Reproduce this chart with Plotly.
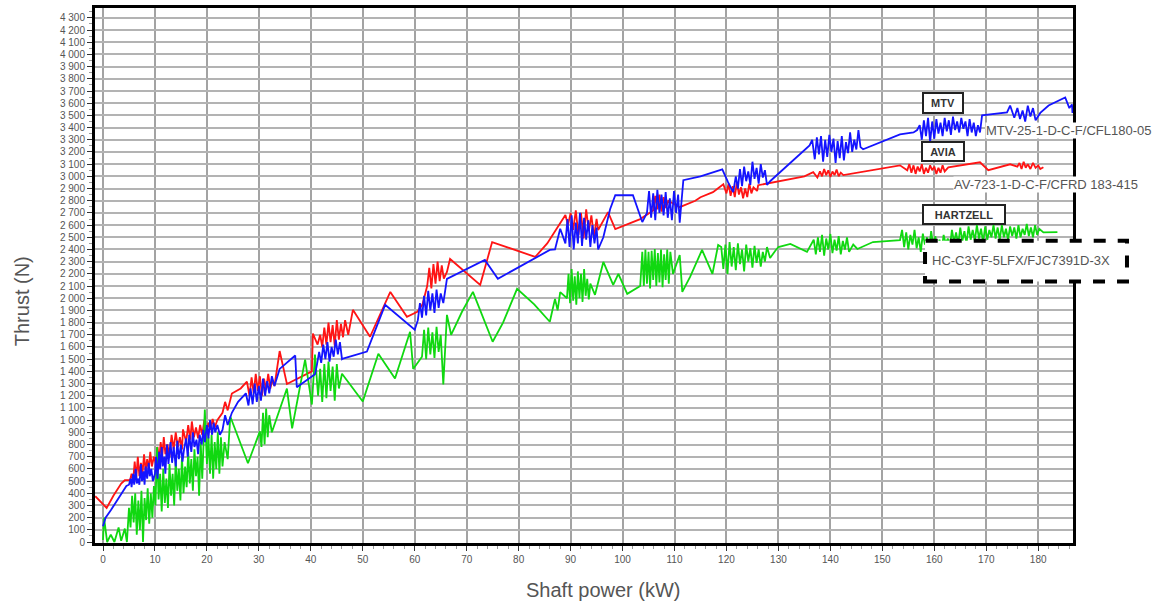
import plotly.graph_objects as go

# ---------------- data ----------------
# MTV  (blue)  : (shaft power kW, thrust N)
mtv_points = [
    (0, 130), (0.5, 200), (1.5, 260), (2.5, 330), (3.5, 400), (4.5, 460), (5, 470),
    (5.3, 520), (5.5, 450), (5.8, 560), (6, 470), (6.3, 600), (6.5, 480), (6.8, 520), (7, 470),
    (7.3, 640), (7.5, 500), (7.8, 580), (8, 470), (8.2, 620), (8.5, 520), (8.8, 650), (9, 540),
    (9.3, 600), (9.6, 500), (10, 560), (10.2, 700), (10.5, 520), (10.8, 740), (11, 600),
    (11.3, 780), (11.5, 620), (11.8, 700), (12, 560), (12.3, 800), (12.6, 640), (13, 820),
    (13.3, 650), (13.6, 780), (14, 620), (14.3, 830), (14.6, 680), (15, 800), (15.3, 660),
    (15.6, 760), (16, 850), (16.3, 700), (16.6, 880), (17, 740), (17.3, 900), (17.6, 780),
    (18, 840), (18.3, 720), (18.6, 880), (19, 800), (19.3, 920), (19.6, 820), (20, 960),
    (20.3, 850), (20.6, 1000), (21, 880), (21.3, 980), (21.6, 900), (22, 960), (22.5, 880),
    (23, 920), (23.5, 1040), (24, 960), (24.8, 1060), (26, 1150), (27.5, 1220), (28, 1120),
    (28.4, 1260), (28.8, 1130), (29.2, 1300), (29.6, 1150), (30, 1280), (30.4, 1160),
    (30.8, 1340), (31.2, 1200), (31.6, 1320), (32, 1220), (32.5, 1360), (33, 1280),
    (34, 1420), (37, 1530), (37.3, 1270), (40.8, 1376), (41.2, 1460), (41.6, 1560),
    (42, 1470), (42.4, 1620), (42.8, 1500), (43.2, 1640), (43.6, 1480), (44, 1600),
    (44.4, 1520), (44.8, 1660), (45.2, 1540), (45.6, 1640), (46, 1500), (46.2, 1505),
    (50.8, 1562), (54.3, 1946), (60, 1741), (60.6, 1820), (61, 1960), (61.4, 1840),
    (61.8, 2020), (62.2, 1860), (62.6, 2060), (63, 1900), (63.4, 2040), (63.8, 1880),
    (64.2, 2070), (64.6, 1920), (65, 2040), (65.5, 1960), (66.2, 2158), (73.5, 2314),
    (76, 2160), (86, 2396), (87, 2400), (88, 2570), (89, 2450), (89.4, 2650), (89.8, 2420),
    (90.2, 2680), (90.6, 2400), (91, 2620), (91.4, 2450), (91.8, 2700), (92.2, 2430),
    (92.6, 2660), (93, 2480), (93.4, 2640), (93.8, 2420), (94.2, 2600), (94.6, 2450),
    (95, 2580), (95.3, 2400), (96.3, 2500), (97.6, 2730), (98.6, 2845), (102, 2845),
    (103.8, 2625), (104.7, 2700), (105.1, 2880), (105.5, 2660), (105.9, 2860), (106.3, 2640),
    (106.7, 2890), (107.1, 2700), (107.5, 2850), (107.9, 2680), (108.3, 2870), (108.7, 2660),
    (109.1, 2820), (109.5, 2640), (109.9, 2880), (110.3, 2700), (110.7, 2850), (111, 2620),
    (111.5, 2845), (111.7, 2968), (115, 3000), (119.2, 3058), (120.3, 2952), (121.3, 2870),
    (121.8, 3000), (122.2, 2900), (122.6, 3060), (123, 2920), (123.4, 3080), (123.8, 2960),
    (124.2, 3040), (124.6, 2930), (125, 3120), (125.4, 2980), (125.8, 3070), (126.2, 2940),
    (126.6, 3100), (127, 2990), (127.4, 3050), (127.8, 2930), (128.4, 2960), (136, 3254),
    (136.5, 3300), (137, 3140), (137.4, 3320), (137.8, 3180), (138.2, 3330), (138.6, 3120),
    (139, 3300), (139.4, 3160), (139.8, 3340), (140.2, 3200), (140.6, 3310), (141, 3110),
    (141.4, 3290), (141.8, 3150), (142.2, 3330), (142.6, 3130), (143, 3280), (143.4, 3190),
    (143.8, 3360), (144.2, 3200), (144.6, 3300), (145, 3220), (145.4, 3380), (145.8, 3240),
    (146.3, 3222), (153.4, 3344), (156, 3360), (156.7, 3380), (157.2, 3420), (157.6, 3300),
    (158, 3460), (158.4, 3330), (158.8, 3480), (159.2, 3280), (159.6, 3450), (160, 3310),
    (160.4, 3470), (160.8, 3350), (161.2, 3440), (161.6, 3330), (162, 3480), (162.4, 3370),
    (162.8, 3460), (163.2, 3340), (163.6, 3490), (164, 3380), (164.4, 3450), (164.8, 3360),
    (165.2, 3480), (165.6, 3390), (166, 3450), (166.4, 3330), (166.8, 3470), (167.2, 3360),
    (167.6, 3440), (168, 3330), (168.4, 3420), (168.8, 3360), (169.2, 3500), (174, 3524),
    (174.6, 3581), (175.4, 3480), (176, 3560), (176.5, 3470), (177, 3540), (177.5, 3450),
    (178, 3580), (178.5, 3490), (179, 3560), (179.5, 3460), (180.4, 3520), (182, 3581),
    (185.2, 3647), (186, 3560), (186.5, 3590), (186.6, 3520),
]

# AVIA (red)
avia_points = [
    (-1.5, 376), (0.7, 280), (2, 380), (3.5, 480), (4.2, 507), (5.2, 507),
    (5.5, 560), (5.8, 500), (6.1, 660), (6.4, 520), (6.7, 700), (7, 540), (7.3, 650),
    (7.6, 560), (7.9, 720), (8.2, 580), (8.5, 680), (8.8, 600), (9.1, 740), (9.4, 620),
    (9.8, 700), (10.2, 640), (10.5, 780), (10.8, 660), (11.1, 820), (11.4, 700), (11.7, 860),
    (12, 720), (12.4, 800), (12.8, 700), (13.2, 880), (13.6, 760), (14, 900), (14.4, 780),
    (14.8, 860), (15.2, 760), (15.4, 924), (16, 820), (16.4, 960), (16.8, 840), (17.1, 989),
    (17.5, 860), (17.9, 940), (18.3, 850), (18.7, 960), (19.1, 880), (19.5, 1000),
    (19.9, 900), (20.3, 980), (20.7, 920), (21.1, 1010), (21.5, 940), (22, 1000),
    (23, 1060), (23.5, 1150), (24, 1080), (24.8, 1218), (26.5, 1260), (27.7, 1316),
    (28.2, 1200), (28.6, 1350), (29, 1220), (29.4, 1380), (29.8, 1240), (30.2, 1360),
    (30.6, 1200), (31, 1340), (31.4, 1250), (31.8, 1380), (32.2, 1260), (32.6, 1330),
    (33, 1280), (34, 1567), (35.4, 1297), (40.2, 1400), (40.4, 1710), (41.3, 1620),
    (41.8, 1700), (42.2, 1600), (42.6, 1760), (43, 1620), (43.4, 1800), (43.8, 1640),
    (44.2, 1780), (44.6, 1610), (45, 1820), (45.4, 1660), (45.8, 1790), (46.2, 1680),
    (46.6, 1820), (47.2, 1700), (48.1, 1905), (51.4, 1684), (55.3, 2052), (58.5, 1848),
    (60.5, 1889), (61.5, 1950), (62.4, 2100), (62.8, 2250), (63.2, 2080), (63.6, 2280),
    (64, 2120), (64.4, 2300), (64.8, 2140), (65.2, 2270), (65.6, 2160), (66.2, 2216),
    (66.8, 2322), (72.6, 2110), (74.9, 2461), (83.2, 2339), (85.5, 2450), (89, 2682),
    (89.5, 2600), (90, 2700), (90.5, 2560), (91, 2720), (91.5, 2520), (92, 2700),
    (92.5, 2490), (93, 2730), (93.5, 2550), (94, 2680), (94.5, 2500), (95, 2650),
    (95.3, 2560), (97.2, 2706), (98.6, 2567), (103.4, 2649), (105.9, 2720), (106.3, 2840),
    (106.7, 2730), (107.1, 2850), (107.5, 2710), (107.9, 2830), (108.3, 2740), (108.8, 2800),
    (111, 2747), (114, 2800), (115, 2829), (117.4, 2870), (119.4, 2935), (120, 2860),
    (120.4, 2940), (120.8, 2840), (121.2, 2920), (121.6, 2830), (122, 2950), (122.4, 2850),
    (122.8, 2910), (123.2, 2820), (123.6, 2900), (124, 2830), (124.4, 2940), (124.8, 2860),
    (125.2, 2910), (125.9, 2880), (126.1, 2927), (135, 3000), (136.7, 3034), (137.5, 2990),
    (138, 3040), (138.4, 3000), (138.8, 3060), (139.2, 3010), (139.6, 3050), (140, 2995),
    (140.4, 3040), (140.8, 3010), (141.2, 3055), (141.6, 3000), (142, 3030), (142.5, 3010),
    (153.4, 3090), (154.8, 3050), (155.2, 3100), (155.6, 3030), (156, 3090), (156.4, 3020),
    (156.8, 3080), (157.2, 3040), (157.6, 3100), (158, 3020), (158.4, 3070), (158.8, 3030),
    (159.2, 3090), (159.6, 3050), (160, 3080), (160.4, 3020), (160.8, 3070), (161.2, 3030),
    (161.6, 3090), (162, 3040), (162.7, 3074), (168.8, 3115), (170.4, 3050), (174.6, 3099),
    (176, 3080), (176.4, 3110), (176.8, 3060), (177.2, 3120), (177.6, 3070), (178, 3100),
    (178.5, 3060), (179, 3110), (179.5, 3070), (180, 3090), (180.4, 3060), (181, 3074),
]

# HARTZELL (green)
hartzell_points = [
    (0, 16), (0.2, 200), (0.8, 0), (1.5, 60), (2.2, 0), (3, 120), (3.5, 10), (4.2, 110),
    (4.6, 0), (5, 280), (5.3, 120), (5.6, 380), (5.9, 160), (6.2, 400), (6.5, 60),
    (6.8, 340), (7.1, 100), (7.4, 420), (7.7, 0), (8, 360), (8.3, 180), (8.6, 440),
    (8.9, 150), (9.2, 400), (9.5, 200), (9.8, 460), (10.1, 300), (10.4, 780), (10.7, 350),
    (11, 560), (11.3, 250), (11.6, 600), (11.9, 320), (12.2, 520), (12.5, 280), (12.8, 640),
    (13.1, 380), (13.4, 560), (13.7, 300), (14, 680), (14.3, 420), (14.6, 600), (14.9, 340),
    (15.2, 700), (15.5, 400), (15.8, 620), (16.1, 450), (16.4, 740), (16.7, 480), (17, 680),
    (17.3, 420), (17.6, 760), (17.9, 540), (18.2, 700), (18.5, 380), (18.8, 820),
    (19.1, 520), (19.6, 1087), (20, 640), (20.3, 860), (20.6, 560), (20.9, 880), (21.2, 520),
    (21.5, 820), (21.8, 600), (22.1, 900), (22.4, 560), (22.7, 860), (23, 620), (23.4, 820),
    (24, 680), (24.5, 1030), (27.9, 646), (30.2, 908), (30.5, 780), (30.8, 1060),
    (31.1, 800), (31.4, 1096), (31.7, 860), (32, 1040), (32.5, 900), (35.4, 1259),
    (36.4, 932), (38.9, 1496), (40.2, 1128), (40.8, 1537), (41.4, 1200), (41.8, 1420),
    (42.2, 1150), (42.6, 1460), (43, 1180), (43.4, 1480), (43.8, 1240), (44.2, 1440),
    (44.6, 1160), (45, 1460), (45.4, 1260), (46, 1380), (50, 1153), (53, 1545),
    (56.2, 1341), (59.1, 1725), (59.7, 1420), (61.4, 1520), (61.8, 1740), (62.2, 1500),
    (62.6, 1760), (63, 1540), (63.4, 1720), (63.8, 1510), (64.2, 1766), (64.6, 1560),
    (65, 1700), (65.5, 1292), (66.2, 1864), (67, 1700), (69.1, 1889), (71.2, 2052),
    (75, 1643), (77, 1800), (79.7, 2077), (83, 1950), (86, 1807), (87, 1995), (87.5, 1900),
    (88, 2050), (89.3, 2000), (89.6, 2200), (89.9, 1960), (90.2, 2240), (90.5, 1980),
    (90.8, 2180), (91.1, 1946), (91.4, 2220), (91.7, 2000), (92, 2200), (92.3, 1970),
    (92.6, 2240), (92.9, 2020), (93.2, 2160), (93.5, 1990), (93.8, 2120), (94.7, 2028),
    (96.3, 2298), (98.2, 2110), (99.2, 2200), (100.9, 2036), (102.5, 2080), (103.4, 2100),
    (103.8, 2380), (104.1, 2100), (104.4, 2400), (104.7, 2120), (105, 2380), (105.3, 2080),
    (105.6, 2390), (105.9, 2150), (106.2, 2404), (106.5, 2100), (106.8, 2370), (107.1, 2130),
    (107.4, 2400), (107.7, 2090), (108, 2360), (108.3, 2150), (108.6, 2400), (108.9, 2120),
    (109.2, 2380), (109.7, 2200), (111, 2355), (111.5, 2052), (113, 2175), (115.3, 2396),
    (117.3, 2200), (118.4, 2437), (119, 2420), (119.4, 2240), (119.8, 2440), (120.2, 2200),
    (120.6, 2460), (121, 2260), (121.4, 2420), (121.8, 2230), (122.2, 2450), (122.6, 2280),
    (123, 2400), (123.4, 2220), (123.8, 2440), (124.2, 2300), (124.6, 2410), (125, 2250),
    (125.4, 2430), (125.8, 2290), (126.2, 2400), (126.6, 2260), (127, 2380), (127.4, 2300),
    (127.8, 2420), (128.4, 2330), (129.4, 2390), (130, 2420), (132.3, 2445), (135.5, 2380),
    (136.8, 2480), (137.2, 2360), (137.6, 2500), (138, 2380), (138.4, 2520), (138.8, 2350),
    (139.2, 2490), (139.6, 2400), (140, 2527), (140.4, 2370), (140.8, 2480), (141.2, 2390),
    (141.6, 2510), (142, 2360), (142.4, 2470), (142.8, 2400), (143.2, 2500), (143.6, 2380),
    (144.4, 2440), (145.2, 2404), (148.2, 2461), (153.4, 2477), (153.8, 2560), (154.2, 2420),
    (154.6, 2540), (155, 2400), (155.4, 2520), (155.8, 2440), (156.2, 2560), (156.6, 2410),
    (157, 2500), (157.4, 2380), (157.8, 2530), (158.2, 2440), (158.6, 2500), (159, 2390),
    (159.4, 2550), (159.8, 2430), (160.2, 2510), (160.6, 2400), (161, 2480), (161.4, 2380),
    (161.8, 2520), (162.2, 2450), (162.6, 2490), (163, 2420), (163.4, 2560), (163.8, 2460),
    (164.2, 2540), (164.6, 2440), (165, 2580), (165.4, 2470), (165.8, 2550), (166.2, 2450),
    (166.6, 2590), (167, 2480), (167.4, 2560), (167.8, 2470), (168.2, 2600), (168.6, 2490),
    (169, 2570), (169.4, 2460), (169.8, 2590), (170.2, 2480), (170.6, 2560), (171, 2500),
    (171.4, 2600), (171.8, 2490), (172.2, 2580), (172.6, 2480), (173, 2600), (173.4, 2500),
    (173.8, 2570), (174.2, 2480), (174.6, 2590), (175, 2510), (175.4, 2580), (175.8, 2490),
    (176.2, 2600), (176.6, 2500), (177, 2570), (177.4, 2520), (177.8, 2610), (178.2, 2510),
    (178.6, 2580), (179, 2500), (179.4, 2600), (179.8, 2520), (180.2, 2570), (181, 2540),
    (183.7, 2543),
]

series_names = ["AVIA", "HARTZELL", "MTV"]
series_models = ["AV-723-1-D-C-F/CFRD 183-415", "HC-C3YF-5LFX/FJC7391D-3X",
                 "MTV-25-1-D-C-F/CFL180-05"]
series_colors = ["#ff1414", "#10d810", "#1414ff"]
x_title = "Shaft power (kW)"
y_title = "Thrust (N)"

# ---------------- figure ----------------
fig = go.Figure()
for name, pts, col in zip(series_names, [avia_points, hartzell_points, mtv_points], series_colors):
    xs = [p[0] for p in pts]
    ys = [p[1] for p in pts]
    fig.add_trace(go.Scatter(x=xs, y=ys, mode="lines", name=name,
                             line=dict(color=col, width=1.8), showlegend=False))

tick_font = dict(family="Liberation Sans, Arial, sans-serif", size=10, color="#555555")

fig.update_layout(
    width=1166, height=604,
    margin=dict(l=95, r=93, t=5, b=61),
    paper_bgcolor="white", plot_bgcolor="white",
    separators=". ",
    xaxis=dict(range=[-1.54, 186.7], tick0=0, dtick=10, showgrid=True,
               gridcolor="#a3a3a3", gridwidth=2, zeroline=False,
               ticks="outside", ticklen=5, tickwidth=1, tickcolor="#333",
               tickfont=tick_font, showline=True, linecolor="black", linewidth=3,
               mirror=True,
               minor=dict(dtick=2, ticks="outside", ticklen=3, tickcolor="#999",
                          showgrid=False)),
    yaxis=dict(range=[-8, 4381], tick0=0, dtick=100, tickformat=",d", showgrid=True,
               gridcolor="#b3b3b3", gridwidth=2, zeroline=False,
               ticks="outside", ticklen=5, tickwidth=1, tickcolor="#333",
               tickfont=tick_font, showline=True, linecolor="black", linewidth=3,
               mirror=True,
               minor=dict(dtick=50, ticks="outside", ticklen=3, tickcolor="#999",
                          showgrid=False)),
)

title_font = dict(family="Liberation Sans, Arial, sans-serif", size=20, color="#555555")
label_font = dict(family="Liberation Sans, Arial, sans-serif", size=13, color="#555555")
box_font = dict(family="Liberation Sans, Arial, sans-serif", size=11, color="#333333")

annotations = [
    dict(text=x_title, xref="paper", yref="paper", x=0.519, y=-0.087,
         showarrow=False, font=title_font, xanchor="center", yanchor="middle"),
    dict(text=y_title, xref="paper", yref="paper", x=-0.0746, y=0.452, textangle=-90,
         showarrow=False, font=title_font, xanchor="center", yanchor="middle"),
    # boxed series names
    dict(text="<b>MTV</b>", x=161.7, y=3598, xref="x", yref="y", showarrow=False,
         font=box_font, bgcolor="white", bordercolor="#222", borderwidth=2,
         borderpad=2, width=34, height=14),
    dict(text="<b>AVIA</b>", x=161.7, y=3207, xref="x", yref="y", showarrow=False,
         font=box_font, bgcolor="white", bordercolor="#222", borderwidth=2,
         borderpad=2, width=36, height=13),
    dict(text="<b>HARTZELL</b>", x=165.8, y=2684, xref="x", yref="y", showarrow=False,
         font=box_font, bgcolor="white", bordercolor="#222", borderwidth=2,
         borderpad=2, width=76, height=13),
    # model labels
    dict(text=series_models[2], x=169.8, y=3378, xref="x", yref="y", showarrow=False,
         font=label_font, bgcolor="white", xanchor="left", yanchor="middle", borderpad=0),
    dict(text=series_models[0], x=163.6, y=2937, xref="x", yref="y", showarrow=False,
         font=label_font, bgcolor="white", xanchor="left", yanchor="middle", borderpad=0),
]
fig.update_layout(annotations=annotations)

# dashed highlight box around the Hartzell model label (paper coordinates)
fig.add_shape(type="rect", xref="paper", yref="paper",
              x0=0.8487, x1=1.0552, y0=0.4888, y1=0.565,
              line=dict(color="black", width=4, dash="dash"), fillcolor="white",
              layer="above")
fig.add_annotation(text=series_models[1], x=159.2, y=2309, xref="x", yref="y",
                   showarrow=False, font=label_font, xanchor="left", yanchor="middle")

fig.write_html("out.html")
